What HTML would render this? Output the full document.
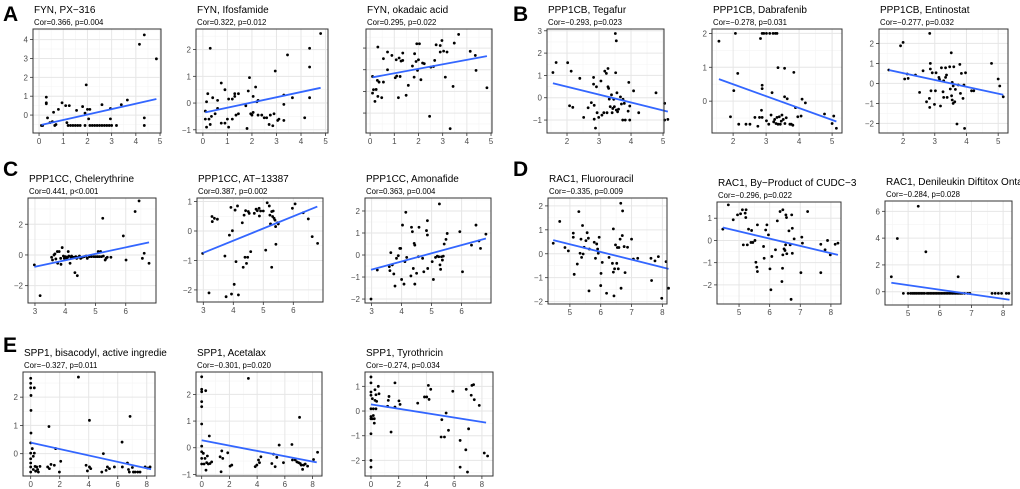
<!DOCTYPE html>
<html><head><meta charset="utf-8">
<style>
html,body{margin:0;padding:0;background:#fff;}
svg{display:block;font-family:"Liberation Sans",sans-serif;}
</style></head>
<body>
<svg id="fig" width="1020" height="489" viewBox="0 0 1020 489"></svg>
<script>
// ---- data ----
const ptsA1=[[0.1,-0.55],[0.15,-0.55],[0.3,0.95],[0.3,0.65],[0.3,0.6],[0.35,-0.15],[0.45,-0.4],[0.55,-0.35],[0.6,0.15],[0.65,-0.55],[0.7,-0.5],[0.8,0.3],[0.95,0.65],[1.1,0.5],[1.15,-0.4],[1.2,-0.55],[1.25,0.5],[1.3,-0.55],[1.4,-0.55],[1.5,-0.55],[1.6,-0.55],[1.55,0.25],[1.7,-0.55],[1.8,0.45],[1.9,-0.55],[1.9,0.1],[1.95,1.6],[2.0,0.3],[2.05,-0.2],[2.1,0.3],[2.1,-0.55],[2.2,-0.55],[2.3,-0.55],[2.4,-0.55],[2.5,-0.55],[2.6,0.55],[2.6,-0.55],[2.7,-0.55],[2.8,-0.55],[2.9,-0.55],[2.95,0.35],[2.95,-0.2],[3.0,-0.55],[3.2,-0.55],[3.4,0.55],[3.65,0.8],[4.15,3.75],[4.35,4.25],[4.35,-0.15],[4.35,-0.55],[4.85,2.98]];
const ptsA2=[[0.1,-0.3],[0.1,-0.6],[0.15,-0.9],[0.15,0.05],[0.2,0.35],[0.25,-0.6],[0.3,2.05],[0.35,-0.5],[0.3,-0.8],[0.4,0.2],[0.5,-0.4],[0.6,0.1],[0.6,-0.2],[0.75,0.75],[0.75,-0.75],[0.9,0.5],[0.9,-0.75],[1.0,-0.6],[1.05,0.15],[1.05,-0.9],[1.2,0.15],[1.2,-0.6],[1.3,0.35],[1.3,0.25],[1.35,-0.45],[1.45,0.35],[1.45,-0.4],[1.75,-0.1],[1.8,-0.95],[1.85,0.45],[1.9,0.95],[1.95,-0.4],[2.0,-0.45],[2.05,0.25],[2.05,-0.35],[2.15,0.6],[2.2,0.05],[2.25,0.1],[2.25,-0.45],[2.4,-0.45],[2.5,-0.55],[2.6,-0.55],[2.7,-0.8],[2.75,-0.45],[2.85,-0.85],[2.9,-0.4],[2.95,1.2],[3.05,-0.65],[3.1,-0.6],[3.3,0.3],[3.3,-0.05],[3.3,-0.65],[3.45,1.8],[3.65,0.2],[4.15,-0.55],[4.35,2.05],[4.35,1.35],[4.35,0.2],[4.8,2.6]];
const ptsA3=[[0.1,1.69],[0.14,1.08],[0.1,0.92],[0.25,1.09],[0.2,0.54],[0.3,1.51],[0.32,0.77],[0.32,3.05],[0.37,1.43],[0.48,0.71],[0.55,1.43],[0.55,2.51],[0.72,2.82],[0.72,2.0],[0.9,2.66],[1.04,1.63],[1.08,2.46],[1.1,1.71],[1.17,0.71],[1.2,2.54],[1.24,1.69],[1.28,2.4],[1.35,2.77],[1.35,2.43],[1.49,0.82],[1.58,1.28],[1.75,2.17],[1.82,1.66],[1.84,2.74],[1.9,2.38],[1.93,3.2],[1.96,1.97],[2.0,2.46],[2.04,3.2],[2.1,1.54],[2.17,2.31],[2.24,2.28],[2.46,-0.15],[2.51,2.12],[2.62,2.15],[2.67,2.43],[2.73,3.15],[2.9,3.12],[2.9,2.82],[2.97,3.35],[3.04,2.86],[3.11,1.66],[3.18,2.82],[3.31,-0.72],[3.43,1.23],[3.48,3.23],[3.66,3.63],[4.14,2.85],[4.35,2.66],[4.38,1.97],[4.83,1.17]];
const ptsB1=[[1.56,1.13],[1.66,1.58],[2.02,1.57],[2.08,-0.36],[2.13,1.19],[2.18,-0.43],[2.4,0.87],[2.52,-0.88],[2.66,-0.45],[2.76,-0.22],[2.83,0.91],[2.83,0.61],[2.85,-0.34],[2.85,-0.96],[2.89,-1.36],[2.92,0.49],[2.94,-0.67],[2.99,-0.88],[3.06,0.75],[3.09,-0.78],[3.15,-0.67],[3.18,1.19],[3.23,1.09],[3.25,-0.67],[3.28,1.31],[3.28,0.49],[3.3,0.42],[3.32,-0.06],[3.35,-0.4],[3.39,0.13],[3.41,-0.67],[3.43,-0.48],[3.46,-0.07],[3.48,-0.4],[3.51,2.88],[3.52,1.12],[3.54,2.55],[3.54,-0.55],[3.56,0.22],[3.58,-0.63],[3.61,-0.51],[3.67,0.04],[3.7,-0.28],[3.74,-1.0],[3.75,-0.07],[3.79,-0.25],[3.82,-1.0],[3.91,-0.6],[3.93,0.69],[3.96,-0.37],[3.96,-1.0],[4.08,0.31],[4.24,-0.67],[4.78,0.22],[5.05,-0.25],[5.05,-1.0],[5.15,-0.97]];
const ptsB2=[[1.57,1.77],[1.92,-0.46],[2.02,0.31],[2.07,2.0],[2.14,0.82],[2.17,-0.68],[2.39,-0.68],[2.51,-0.68],[2.66,-0.48],[2.75,-0.74],[2.8,-0.48],[2.83,1.85],[2.86,-0.27],[2.88,2.0],[2.88,0.47],[2.88,0.37],[2.88,-0.48],[2.93,2.0],[3.01,2.0],[3.01,-0.58],[3.08,-0.68],[3.11,2.0],[3.15,-0.41],[3.18,0.25],[3.21,2.0],[3.23,-0.61],[3.26,-0.54],[3.28,2.0],[3.3,-0.66],[3.33,2.0],[3.33,-0.48],[3.36,-0.68],[3.36,0.99],[3.4,-0.46],[3.43,-0.68],[3.46,-0.59],[3.48,-0.41],[3.52,-0.54],[3.56,0.97],[3.56,0.13],[3.57,-0.66],[3.61,-0.49],[3.64,0.07],[3.72,-0.68],[3.76,-0.68],[3.81,-0.71],[3.84,0.85],[3.89,-0.19],[3.96,-0.46],[4.06,-0.44],[4.09,0.06],[4.19,-0.05],[4.77,-0.38],[5.0,-0.66],[5.05,-0.44],[5.13,-0.8]];
const ptsB3=[[1.55,0.67],[1.92,1.88],[2.0,2.05],[2.05,0.22],[2.13,0.47],[2.16,0.25],[2.39,0.42],[2.52,-0.45],[2.63,0.63],[2.74,-0.92],[2.83,-0.75],[2.84,2.5],[2.84,-1.2],[2.86,1.0],[2.86,0.72],[2.88,-0.37],[2.92,0.53],[2.99,-1.05],[3.02,-0.37],[3.04,0.53],[3.13,0.3],[3.15,0.2],[3.18,-1.13],[3.21,0.78],[3.26,-0.42],[3.28,0.13],[3.28,-0.7],[3.34,0.78],[3.34,0.3],[3.37,0.42],[3.39,-0.7],[3.47,0.83],[3.49,-0.28],[3.52,1.53],[3.53,-0.62],[3.55,0.05],[3.55,-0.83],[3.58,-1.0],[3.58,-0.13],[3.6,0.83],[3.63,-0.92],[3.65,-0.3],[3.7,-2.03],[3.74,-0.08],[3.79,0.95],[3.81,-0.5],[3.84,0.5],[3.89,-0.75],[3.92,-0.08],[3.94,-2.25],[3.97,0.53],[4.16,-0.37],[4.23,-0.37],[4.79,1.0],[5.0,0.22],[5.05,-0.13],[5.16,-0.67]];
const ptsC1=[[2.98,-0.65],[3.17,-2.65],[3.55,-0.15],[3.58,-0.33],[3.63,0.0],[3.66,0.07],[3.69,-0.26],[3.74,0.22],[3.75,-0.54],[3.8,0.22],[3.85,-0.22],[3.86,-0.61],[3.9,0.48],[3.94,-0.07],[3.97,-0.22],[4.01,-0.11],[4.05,-0.22],[4.08,-0.15],[4.1,0.22],[4.12,-0.07],[4.16,-0.54],[4.19,-0.15],[4.21,-0.07],[4.25,-0.15],[4.29,-0.15],[4.32,-1.15],[4.35,-0.11],[4.38,-0.22],[4.4,-1.35],[4.43,-0.15],[4.47,-0.07],[4.51,-0.22],[4.57,-0.15],[4.63,-0.11],[4.69,-0.07],[4.73,-0.22],[4.8,-0.11],[4.87,-0.11],[4.95,-0.11],[5.01,-0.11],[5.07,-0.11],[5.09,0.22],[5.13,-0.11],[5.17,0.22],[5.2,-0.11],[5.24,2.39],[5.26,-0.07],[5.32,-0.33],[5.35,-0.22],[5.39,-0.15],[5.51,-0.15],[5.92,1.24],[6.01,-0.33],[6.31,2.83],[6.44,3.52],[6.55,-0.22],[6.61,0.11],[6.77,-0.54]];
const ptsC2=[[2.98,-0.76],[3.19,-2.1],[3.29,0.49],[3.3,0.32],[3.37,0.43],[3.47,0.4],[3.72,-0.85],[3.76,-2.23],[3.87,-0.14],[3.92,0.8],[3.94,-2.14],[3.97,0.01],[4.03,-1.81],[4.06,0.71],[4.09,-1.04],[4.14,0.85],[4.17,-2.17],[4.3,0.28],[4.33,-1.23],[4.36,0.54],[4.39,-0.89],[4.41,0.69],[4.44,-1.1],[4.48,-0.89],[4.5,0.66],[4.53,0.6],[4.58,-0.7],[4.7,0.6],[4.76,0.74],[4.8,0.69],[4.86,0.77],[4.87,0.51],[4.91,0.68],[5.0,0.68],[5.08,-0.65],[5.13,0.96],[5.2,0.85],[5.22,0.54],[5.24,0.24],[5.28,0.66],[5.28,-1.23],[5.31,0.49],[5.33,0.68],[5.36,0.43],[5.39,0.37],[5.41,0.15],[5.42,-0.45],[5.47,0.28],[5.5,0.24],[5.97,0.77],[6.06,0.92],[6.33,0.62],[6.5,0.41],[6.63,-0.19],[6.81,-0.42]];
const ptsC3=[[2.98,-2.0],[3.19,-0.68],[3.59,-0.53],[3.61,-0.71],[3.64,0.11],[3.69,-0.45],[3.74,-0.86],[3.78,-1.41],[3.83,-0.15],[3.89,-0.03],[3.94,0.3],[3.97,0.3],[4.0,-1.11],[4.03,1.36],[4.08,-1.32],[4.11,-0.3],[4.14,1.94],[4.17,-0.11],[4.31,-0.95],[4.33,1.26],[4.36,1.06],[4.39,-0.61],[4.42,0.53],[4.44,0.45],[4.44,-1.32],[4.5,-0.83],[4.56,-0.08],[4.58,1.26],[4.7,-0.15],[4.74,-0.76],[4.83,1.11],[4.86,1.56],[4.86,0.91],[4.87,-0.61],[5.02,-0.3],[5.06,-1.11],[5.13,-0.11],[5.19,-0.05],[5.24,-0.08],[5.26,2.32],[5.28,-0.45],[5.3,-0.65],[5.33,-0.08],[5.36,-0.23],[5.39,-0.05],[5.42,0.5],[5.48,0.71],[5.52,0.98],[5.94,1.06],[6.03,-0.76],[6.33,0.45],[6.48,1.36],[6.58,0.64],[6.63,0.3],[6.81,0.95]];
const ptsD1=[[4.46,0.44],[4.67,1.35],[4.84,0.26],[4.95,0.12],[5.11,0.86],[5.11,0.69],[5.14,-0.86],[5.24,-0.43],[5.29,1.76],[5.33,0.02],[5.36,0.61],[5.38,-0.15],[5.41,1.18],[5.43,-0.01],[5.46,0.27],[5.52,0.55],[5.56,0.88],[5.6,0.65],[5.62,-1.55],[5.63,0.2],[5.79,0.48],[5.83,-0.19],[5.87,0.41],[5.9,0.2],[5.92,0.02],[5.95,0.69],[6.0,-1.33],[6.01,-0.82],[6.05,-0.36],[6.19,-1.65],[6.27,-0.15],[6.38,-0.4],[6.41,1.04],[6.41,-0.77],[6.43,-1.76],[6.45,-0.63],[6.48,0.37],[6.52,-0.4],[6.54,0.26],[6.57,-0.63],[6.59,0.26],[6.63,0.61],[6.65,2.11],[6.66,-1.44],[6.7,0.76],[6.71,1.79],[6.76,0.3],[6.79,-0.79],[6.87,0.27],[7.0,0.61],[7.06,-0.22],[7.2,-0.19],[7.63,-0.19],[7.65,-1.12],[7.76,-0.3],[7.87,-0.12],[7.98,-1.86],[8.12,-0.33],[8.2,-1.44]];
const ptsD2=[[4.47,0.51],[4.65,1.6],[4.81,0.93],[4.95,1.15],[5.05,1.2],[5.11,1.38],[5.14,-0.2],[5.2,1.23],[5.22,1.03],[5.23,1.38],[5.27,-0.2],[5.31,0.51],[5.39,-0.09],[5.41,0.45],[5.45,-0.09],[5.52,0.0],[5.55,-0.98],[5.58,-1.2],[5.6,0.7],[5.6,-1.4],[5.8,-0.27],[5.82,-0.8],[5.87,0.47],[5.91,0.7],[5.96,0.25],[6.01,-1.28],[6.04,-2.22],[6.07,-0.72],[6.19,-0.42],[6.25,0.88],[6.34,1.3],[6.4,-1.85],[6.42,-1.25],[6.43,1.38],[6.43,-0.65],[6.47,-0.38],[6.5,-0.45],[6.52,-0.2],[6.53,1.15],[6.55,1.03],[6.56,-0.6],[6.63,0.43],[6.67,-0.2],[6.7,-2.65],[6.72,1.15],[6.74,0.55],[6.74,-0.58],[6.8,0.07],[7.02,-1.45],[7.05,0.15],[7.07,-0.12],[7.24,1.3],[7.67,-0.17],[7.67,-1.45],[7.81,-0.42],[7.89,0.0],[7.98,-0.65],[8.14,-0.17],[8.23,-0.12]];
const ptsD3=[[4.47,1.12],[4.66,3.97],[5.32,6.38],[5.56,2.98],[6.58,1.12],[4.85,-0.12],[5.0,-0.12],[5.08,-0.12],[5.13,-0.12],[5.18,-0.12],[5.22,-0.12],[5.27,-0.12],[5.32,-0.12],[5.37,-0.12],[5.42,-0.12],[5.47,-0.12],[5.52,-0.12],[5.6,-0.12],[5.65,-0.12],[5.7,-0.12],[5.75,-0.12],[5.8,-0.12],[5.85,-0.12],[5.9,-0.12],[5.95,-0.12],[6.0,-0.12],[6.05,-0.12],[6.1,-0.12],[6.15,-0.12],[6.2,-0.12],[6.25,-0.12],[6.3,-0.12],[6.35,-0.12],[6.4,-0.12],[6.45,-0.12],[6.5,-0.12],[6.55,-0.12],[6.6,-0.12],[6.65,-0.12],[6.7,-0.12],[6.78,-0.12],[6.88,-0.12],[6.95,-0.12],[7.65,-0.12],[7.75,-0.12],[7.85,-0.12],[7.95,-0.12],[8.1,-0.12],[8.18,-0.12]];
const ptsE1=[[0,2.67],[0,2.49],[0,2.33],[0.02,2.06],[0.02,1.53],[0.02,0.73],[0,0.38],[0,0.02],[0,-0.18],[0,-0.33],[0,-0.47],[0,-0.65],[0.11,0.18],[0.18,-0.09],[0.18,-0.56],[0.25,2.33],[0.25,0.02],[0.3,-0.45],[0.34,-0.62],[0.41,-0.47],[0.48,-0.56],[0.53,-0.65],[0.64,-0.45],[1.17,-0.47],[1.26,0.96],[1.29,-0.53],[1.4,-0.38],[1.63,-0.41],[1.72,0.18],[1.98,-0.65],[2.07,-0.27],[3.29,2.71],[3.82,-0.41],[3.91,-0.61],[4.05,1.18],[4.05,-0.47],[4.14,-0.53],[4.9,-0.65],[5.01,0.0],[5.2,-0.59],[5.29,-0.47],[5.43,-0.53],[5.77,-0.47],[6.3,0.41],[6.32,-0.47],[6.67,-0.33],[6.74,-0.56],[6.8,-0.65],[6.85,1.32],[7.01,-0.49],[7.08,-0.65],[7.2,-0.65],[7.38,-0.65],[7.54,-0.65],[7.89,-0.47],[8.07,-0.51],[8.23,-0.47]];
const ptsE2=[[0,2.66],[0,2.19],[0,2.1],[0,1.73],[0,1.54],[0,0.89],[0,0.06],[0,-0.15],[0,-0.4],[0,-0.61],[0.12,-0.21],[0.17,-0.61],[0.24,-0.4],[0.29,2.14],[0.31,-0.84],[0.36,-0.56],[0.41,-0.31],[0.48,-0.61],[0.55,0.44],[0.6,-0.59],[0.72,-0.53],[1.33,-0.34],[1.4,-0.9],[1.45,-0.12],[1.52,-0.4],[1.88,-0.19],[2.05,-0.69],[2.17,-0.65],[3.37,2.6],[3.86,-0.71],[3.98,-0.65],[4.1,-0.46],[4.17,-0.56],[4.27,-0.34],[5.06,-0.59],[5.18,-0.24],[5.3,-0.71],[5.42,-0.36],[5.59,0.1],[5.9,-0.56],[6.51,0.12],[6.55,-0.46],[6.75,-0.46],[6.87,-0.53],[6.99,-0.56],[7.06,1.14],[7.11,-0.59],[7.18,-0.65],[7.28,-0.81],[7.35,-0.65],[7.47,-0.61],[7.64,-0.69],[8.07,-0.44],[8.36,-0.17]];
const ptsE3=[[0,1.38],[0,1.14],[0,0.77],[0,0.64],[0,0.09],[0,-0.22],[0,-0.31],[0,-0.92],[0,-2.0],[0,-2.27],[0.1,0.5],[0.1,-0.31],[0.17,0.09],[0.17,-0.18],[0.24,-0.31],[0.24,-0.49],[0.29,0.86],[0.29,0.43],[0.36,0.66],[0.36,0.09],[0.41,0.39],[0.53,1.0],[0.58,0.7],[1.2,0.19],[1.25,0.43],[1.3,0.59],[1.45,-0.85],[1.73,1.14],[1.73,0.16],[2.02,0.41],[2.1,0.27],[3.37,0.32],[3.86,0.57],[4.02,0.57],[4.14,1.04],[4.19,0.47],[4.31,0.88],[5.11,-0.35],[5.06,-1.05],[5.3,-1.05],[5.42,-0.08],[5.59,-0.78],[5.9,0.8],[6.43,-1.19],[6.43,-2.27],[6.84,-1.57],[6.87,0.88],[6.96,-2.47],[7.04,-0.72],[7.23,0.64],[7.28,1.04],[7.4,1.07],[7.45,0.46],[7.81,0.23],[8.17,-1.7],[8.41,-1.82]];
// fitted regression lines: [x1, y1, x2, y2]
const fitA1=[0.1,-0.52,4.85,0.85], fitA2=[0.1,-0.35,4.8,0.57], fitA3=[0.1,1.65,4.83,2.63];
const fitB1=[1.56,0.65,5.15,-0.62], fitB2=[1.57,0.65,5.13,-0.6], fitB3=[1.55,0.67,5.16,-0.57];
const fitC1=[2.98,-0.78,6.77,0.82], fitC2=[2.98,-0.75,6.8,0.83], fitC3=[2.98,-0.67,6.81,0.75];
const fitD1=[4.46,0.57,8.2,-0.63], fitD2=[4.47,0.58,8.23,-0.65], fitD3=[4.47,0.67,8.2,-0.6];
const fitE1=[0,0.39,8.3,-0.55], fitE2=[0,0.28,8.3,-0.55], fitE3=[0,0.27,8.3,-0.47];
// tick values
const xtA=[0,1,2,3,4,5], xtB=[2,3,4,5], xtC=[3,4,5,6], xtD=[5,6,7,8], xtE=[0,2,4,6,8];
const ytA1=[0,1,2,3,4], ytA2=[-1,0,1,2], ytA3=[0,1,2,3], ytB1=[-1,0,1,2,3], ytB2=[0,1,2], ytB3=[-2,-1,0,1,2];
const ytC1=[-2,0,2], ytC2=[-2,-1,0,1], ytC3=[-2,-1,0,1,2], ytD1=[-2,-1,0,1,2], ytD2=[-2,-1,0,1], ytD3=[0,2,4,6];
const ytE1=[0,1,2], ytE2=[-1,0,1,2], ytE3=[-2,-1,0,1];
const titles=["FYN, PX−316","FYN, Ifosfamide","FYN, okadaic acid","PPP1CB, Tegafur","PPP1CB, Dabrafenib","PPP1CB, Entinostat","PPP1CC, Chelerythrine","PPP1CC, AT−13387","PPP1CC, Amonafide","RAC1, Fluorouracil","RAC1, By−Product of CUDC−3","RAC1, Denileukin Diftitox Ontak","SPP1, bisacodyl, active ingredie","SPP1, Acetalax","SPP1, Tyrothricin"];
const cors=["Cor=0.366, p=0.004","Cor=0.322, p=0.012","Cor=0.295, p=0.022","Cor=−0.293, p=0.023","Cor=−0.278, p=0.031","Cor=−0.277, p=0.032","Cor=0.441, p<0.001","Cor=0.387, p=0.002","Cor=0.363, p=0.004","Cor=−0.335, p=0.009","Cor=−0.296, p=0.022","Cor=−0.284, p=0.028","Cor=−0.327, p=0.011","Cor=−0.301, p=0.020","Cor=−0.274, p=0.034"];

// ---- layout (pixel box + domain) ----
const panels=[
 {box:[33,29,161,133],xd:[-0.25,5.04],yd:[-0.95,4.56],pts:ptsA1,fit:fitA1,xt:xtA,yt:ytA1},
 {box:[196,29,328,133],xd:[-0.28,5.1],yd:[-1.12,2.77],pts:ptsA2,fit:fitA2,xt:xtA,yt:ytA2},
 {box:[366,29,492,133],xd:[-0.17,5.04],yd:[-0.92,3.88],pts:ptsA3,fit:fitA3,xt:xtA,yt:ytA3,noYLab:true},
 {box:[547,29,664,133],xd:[1.375,5.03],yd:[-1.58,3.08],pts:ptsB1,fit:fitB1,xt:xtB,yt:ytB1},
 {box:[712,29,842,133],xd:[1.36,5.3],yd:[-0.94,2.13],pts:ptsB2,fit:fitB2,xt:xtB,yt:ytB2},
 {box:[879,29,1008,133],xd:[1.24,5.31],yd:[-2.48,2.72],pts:ptsB3,fit:fitB3,xt:xtB,yt:ytB3},
 {box:[28,198,156,303],xd:[2.77,7.0],yd:[-3.13,3.71],pts:ptsC1,fit:fitC1,xt:xtC,yt:ytC1},
 {box:[197,198,323,302],xd:[2.79,6.99],yd:[-2.41,1.12],pts:ptsC2,fit:fitC2,xt:xtC,yt:ytC2},
 {box:[365,198,491,303],xd:[2.78,6.98],yd:[-2.18,2.59],pts:ptsC3,fit:fitC3,xt:xtC,yt:ytC3},
 {box:[548,198,667,304],xd:[4.29,8.15],yd:[-2.1,2.33],pts:ptsD1,fit:fitD1,xt:xtD,yt:ytD1},
 {box:[717,202,841,304],xd:[4.28,8.33],yd:[-2.86,1.73],pts:ptsD2,fit:fitD2,xt:xtD,yt:ytD2},
 {box:[885,201,1012,305],xd:[4.27,8.28],yd:[-0.99,6.77],pts:ptsD3,fit:fitD3,xt:xtD,yt:ytD3},
 {box:[23,372,155,476],xd:[-0.53,8.57],yd:[-0.79,2.89],pts:ptsE1,fit:fitE1,xt:xtE,yt:ytE1},
 {box:[196,372,322,476],xd:[-0.41,8.68],yd:[-1.06,2.84],pts:ptsE2,fit:fitE2,xt:xtE,yt:ytE2},
 {box:[365,372,493,476],xd:[-0.43,8.8],yd:[-2.63,1.58],pts:ptsE3,fit:fitE3,xt:xtE,yt:ytE3}
];
const letters=[["A",3,21],["B",513,21],["C",3,176],["D",513,176],["E",3,352]];

const NS="http://www.w3.org/2000/svg";
const svg=document.getElementById('fig');
function mk(tag,attrs,parent,text){const e=document.createElementNS(NS,tag);for(const k in attrs)e.setAttribute(k,attrs[k]);if(text!==undefined)e.textContent=text;(parent||svg).appendChild(e);return e;}

letters.forEach(l=>{
 const t=mk('text',{x:l[1],y:l[2],'font-size':21,'font-weight':'bold',fill:'#000'},svg,l[0]);
 
 
});

panels.forEach((p,i)=>{
 const [x0,y0,x1,y1]=p.box;
 const sx=v=>x0+(v-p.xd[0])/(p.xd[1]-p.xd[0])*(x1-x0);
 const sy=v=>y1-(v-p.yd[0])/(p.yd[1]-p.yd[0])*(y1-y0);
 const g=mk('g',{});
 
 
 mk('rect',{x:x0,y:y0,width:x1-x0,height:y1-y0,fill:'#fff'},g);
 const xs=p.xt[1]-p.xt[0], ys=p.yt[1]-p.yt[0];
 for(let v=p.xt[0]-xs*1.5;v<=p.xd[1];v+=xs){const X=sx(v);if(X>x0&&X<x1)mk('line',{x1:X,x2:X,y1:y0,y2:y1,stroke:'#f4f4f4','stroke-width':0.6},g);}
 for(let v=p.yt[0]-ys*1.5;v<=p.yd[1];v+=ys){const Y=sy(v);if(Y>y0&&Y<y1)mk('line',{x1:x0,x2:x1,y1:Y,y2:Y,stroke:'#f4f4f4','stroke-width':0.6},g);}
 p.xt.forEach(v=>{const X=sx(v);
  mk('line',{x1:X,x2:X,y1:y0,y2:y1,stroke:'#e6e6e6','stroke-width':1},g);
  mk('line',{x1:X,x2:X,y1:y1,y2:y1+3,stroke:'#333','stroke-width':0.8},g);
  const t=mk('text',{x:X,y:y1+11,'font-size':8,fill:'#4d4d4d','text-anchor':'middle'},g,String(v));
  
  
 });
 p.yt.forEach(v=>{const Y=sy(v);
  mk('line',{x1:x0,x2:x1,y1:Y,y2:Y,stroke:'#e6e6e6','stroke-width':1},g);
  mk('line',{x1:x0-3,x2:x0,y1:Y,y2:Y,stroke:'#333','stroke-width':0.8},g);
  if(!p.noYLab){const t=mk('text',{x:x0-5,y:Y+3,'font-size':8,fill:'#4d4d4d','text-anchor':'end'},g,String(v).replace('-','−'));
  
  }
 });
 p.pts.forEach(d=>{
  const c=mk('circle',{cx:sx(d[0]),cy:sy(d[1]),r:1.4,fill:'#000'},g);
  
  
 });
 const ln=mk('line',{x1:sx(p.fit[0]),y1:sy(p.fit[1]),x2:sx(p.fit[2]),y2:sy(p.fit[3]),stroke:'#3366ff','stroke-width':1.8},g);
 
 
 mk('rect',{x:x0,y:y0,width:x1-x0,height:y1-y0,fill:'none',stroke:'#333','stroke-width':1},g);
 const tt=mk('text',{x:x0+1,y:y0-16,'font-size':10,fill:'#000'},g,titles[i]);
 
 
 const ct=mk('text',{x:x0+1,y:y0-4,'font-size':7.8,fill:'#000'},g,cors[i]);
 
 
});
</script>
</body></html>
